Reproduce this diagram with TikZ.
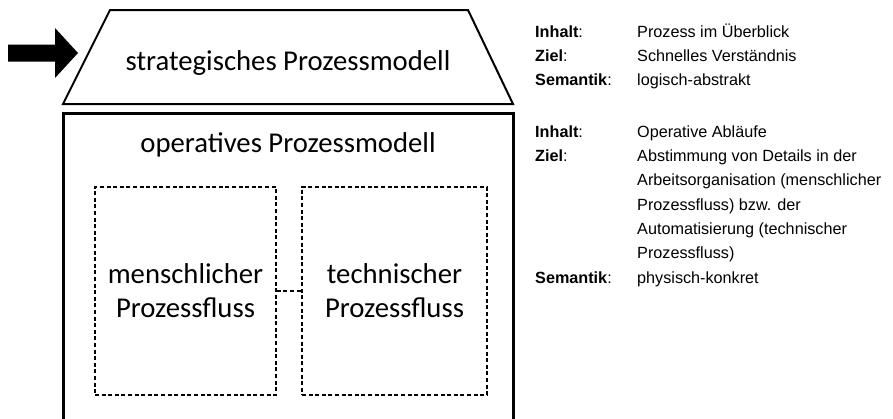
\documentclass[tikz,border=0pt]{standalone}
\usepackage{fontspec}
\setmainfont{Carlito}
\newfontfamily\arialf{Liberation Sans}
\begin{document}
\begin{tikzpicture}[x=1pt,y=-1pt,
  big/.style={font=\fontsize{28.7}{34}\selectfont, inner sep=0pt},
  info/.style={font=\arialf\fontsize{16.2}{19}\selectfont, anchor=base west, inner sep=0pt},
  flowbox/.style={draw, line width=1.6pt, dash pattern=on 4pt off 2.6pt, minimum height=208pt,
                  align=center, inner sep=0pt, font=\fontsize{28.7}{34}\selectfont},
  linkline/.style={draw, line width=1.6pt, dash pattern=on 4pt off 2.6pt},
  stratshape/.style={draw, line width=2pt, line join=miter},
  opershape/.style={draw, line width=3pt}
]
\useasboundingbox (0,0) rectangle (893,418);
\clip (0,0) rectangle (893,418);
% arrow
\fill (8,44.5) -- (55,44.5) -- (55,28) -- (78,53) -- (55,78) -- (55,61.5) -- (8,61.5) -- cycle;
% strategic model trapezoid
\path[stratshape] (110,10) -- (468,10) -- (513,104) -- (63,104) -- cycle;
\node[big, anchor=base] (strat) at (288,70) {strategisches Prozessmodell};
% operative model
\path[opershape] (63,113) rectangle (513,440);
\node[big, anchor=base] (oper) at (288,152) {operatives Prozessmodell};
\node[flowbox, minimum width=181pt] (mensch) at (185.5,291) {menschlicher\\Prozessfluss};
\node[flowbox, minimum width=185pt] (tech) at (394.5,291) {technischer\\Prozessfluss};
\path[linkline] (mensch.east) -- (tech.west);
% info text block 1
\node[info] (l1) at (535,37) {\textbf{Inhalt}:};
\node[info] (v1) at (637,37) {Prozess im Überblick};
\node[info] (l2) at (535,61.3) {\textbf{Ziel}:};
\node[info] (v2) at (637,61.3) {Schnelles Verständnis};
\node[info] (l3) at (535,85.6) {\textbf{Semantik}:};
\node[info] (v3) at (637,85.6) {logisch-abstrakt};
% info text block 2
\node[info] (l4) at (535,137) {\textbf{Inhalt}:};
\node[info] (v4) at (637,137) {Operative Abläufe};
\node[info] (l5) at (535,161.3) {\textbf{Ziel}:};
\node[info] (v5a) at (637,161.3) {Abstimmung von Details in der};
\node[info] (v5b) at (637,185.6) {Arbeitsorganisation (menschlicher};
\node[info] (v5c) at (637,210) {Prozessfluss) bzw. der};
\node[info] (v5d) at (637,234.3) {Automatisierung (technischer};
\node[info] (v5e) at (637,258.6) {Prozessfluss)};
\node[info] (l6) at (535,283) {\textbf{Semantik}:};
\node[info] (v6) at (637,283) {physisch-konkret};
\end{tikzpicture}
\end{document}
